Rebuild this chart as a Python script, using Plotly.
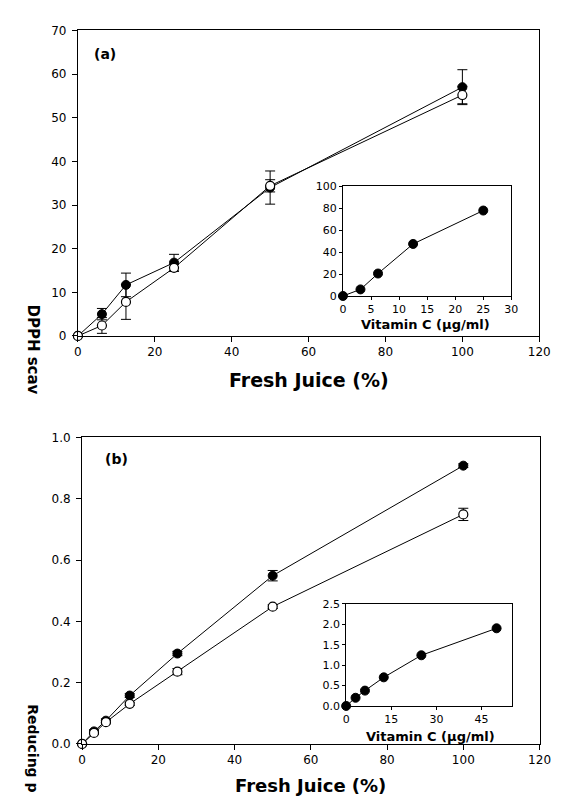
import plotly.graph_objects as go

W, H = 563, 797

# ---------------- data ----------------
juice_a = [0, 6.25, 12.5, 25, 50, 100]
dpph_filled = [0, 5.0, 11.7, 16.8, 34.0, 57.0]
dpph_filled_err = [0, 1.3, 2.7, 1.9, 3.8, 4.0]
dpph_open = [0, 2.4, 7.8, 15.6, 34.4, 55.2]
dpph_open_err = [0, 1.8, 4.0, 0.8, 1.4, 2.0]

vitc_a = [0, 3.125, 6.25, 12.5, 25]
vitc_dpph = [0, 6, 20.5, 47.5, 78]

juice_b = [0, 3.125, 6.25, 12.5, 25, 50, 100]
rp_filled = [0, 0.041, 0.076, 0.158, 0.295, 0.549, 0.908]
rp_filled_err = [0, 0.005, 0.006, 0.006, 0.007, 0.017, 0.006]
rp_open = [0, 0.036, 0.071, 0.131, 0.236, 0.448, 0.749]
rp_open_err = [0, 0.004, 0.005, 0.005, 0.010, 0.006, 0.020]

vitc_b = [0, 3.125, 6.25, 12.5, 25, 50]
vitc_rp = [0, 0.2, 0.375, 0.70, 1.24, 1.9]

main_x_ticks = [0, 20, 40, 60, 80, 100, 120]
inset_b_x_ticks = [0, 15, 30, 45]

# ---------------- helpers ----------------
def px_x(p):
    return p / W

def px_y(p):
    return 1 - p / H

FONT = "DejaVu Sans"
line = dict(color="black", width=1)
filled_marker = dict(symbol="circle", size=9, color="black", line=dict(color="black", width=1))
open_marker = dict(symbol="circle", size=9, color="white", line=dict(color="black", width=1.2))


def err(arr):
    return dict(type="data", array=arr, visible=True, color="black", thickness=1, width=5)


fig = go.Figure()

# panel (a)
fig.add_trace(go.Scatter(x=juice_a, y=dpph_filled, mode="lines+markers", line=line,
                         marker=filled_marker, error_y=err(dpph_filled_err),
                         xaxis="x", yaxis="y", cliponaxis=False))
fig.add_trace(go.Scatter(x=juice_a, y=dpph_open, mode="lines+markers", line=line,
                         marker=open_marker, error_y=err(dpph_open_err),
                         xaxis="x", yaxis="y", cliponaxis=False))
# inset (a)
fig.add_trace(go.Scatter(x=vitc_a, y=vitc_dpph, mode="lines+markers", line=line,
                         marker=filled_marker, xaxis="x2", yaxis="y2", cliponaxis=False))
# panel (b)
fig.add_trace(go.Scatter(x=juice_b, y=rp_filled, mode="lines+markers", line=line,
                         marker=filled_marker, error_y=err(rp_filled_err),
                         xaxis="x3", yaxis="y3", cliponaxis=False))
fig.add_trace(go.Scatter(x=juice_b, y=rp_open, mode="lines+markers", line=line,
                         marker=open_marker, error_y=err(rp_open_err),
                         xaxis="x3", yaxis="y3", cliponaxis=False))
# inset (b)
fig.add_trace(go.Scatter(x=vitc_b, y=vitc_rp, mode="lines+markers", line=line,
                         marker=filled_marker, xaxis="x4", yaxis="y4", cliponaxis=False))

common = dict(showline=True, linecolor="black", linewidth=1, mirror=True,
              ticks="outside", ticklen=5, tickcolor="black", tickwidth=1,
              showgrid=False, zeroline=False, fixedrange=True,
              tickfont=dict(family=FONT, size=12, color="black"))
main_y = dict(common, ticklabelstandoff=3)
inset = dict(common, ticklen=3, tickfont=dict(family=FONT, size=11, color="black"))

fig.update_layout(
    width=W, height=H,
    margin=dict(l=0, r=0, t=0, b=0),
    paper_bgcolor="white", plot_bgcolor="white",
    showlegend=False,
    xaxis=dict(common, domain=[px_x(67.7), px_x(541.7)], range=[0, 120],
               tickvals=main_x_ticks, anchor="y"),
    yaxis=dict(main_y, domain=[px_y(326.7), px_y(15.7)], range=[0, 70],
               dtick=10, anchor="x"),
    xaxis2=dict(inset, domain=[px_x(340), px_x(513)], range=[0, 30],
                dtick=5, anchor="y2"),
    yaxis2=dict(inset, domain=[px_y(286), px_y(174.5)], range=[0, 100],
                dtick=20, anchor="x2"),
    xaxis3=dict(common, domain=[px_x(72), px_x(542)], range=[0, 120],
                tickvals=main_x_ticks, anchor="y3"),
    yaxis3=dict(main_y, domain=[px_y(742), px_y(430)], range=[0, 1.0],
                dtick=0.2, tickformat=".1f", anchor="x3"),
    xaxis4=dict(inset, domain=[px_x(343.3), px_x(513.3)], range=[0, 55],
                tickvals=inset_b_x_ticks, anchor="y4"),
    yaxis4=dict(inset, domain=[px_y(703.3), px_y(599.3)], range=[0, 2.5],
                dtick=0.5, tickformat=".1f", anchor="x4"),
)

ann = []

def add_text(text, x, y, size, angle=0, xanchor="center", yanchor="middle"):
    ann.append(dict(text=text, x=px_x(x), y=px_y(y), xref="paper", yref="paper",
                    showarrow=False, textangle=angle, xanchor=xanchor, yanchor=yanchor,
                    font=dict(family=FONT, size=size, color="black")))

add_text("<b>Fresh Juice (%)</b>", 305, 372, 19)
add_text("<b>Fresh Juice (%)</b>", 307, 784, 18)
add_text("<b>Vitamin C (\u03bcg/ml)</b>", 425, 315, 13)
add_text("<b>Vitamin C (\u03bcg/ml)</b>", 430, 734, 13)
add_text("<b>(a)</b>", 96, 40, 14)
add_text("<b>(b)</b>", 107, 452, 14)
add_text("<b>DPPH scav</b>", 22, 293, 15, angle=90, yanchor="top")
add_text("<b>Reducing p</b>", 22, 700, 14, angle=90, yanchor="top")

fig.update_layout(annotations=ann)

fig.write_html("out.html")
